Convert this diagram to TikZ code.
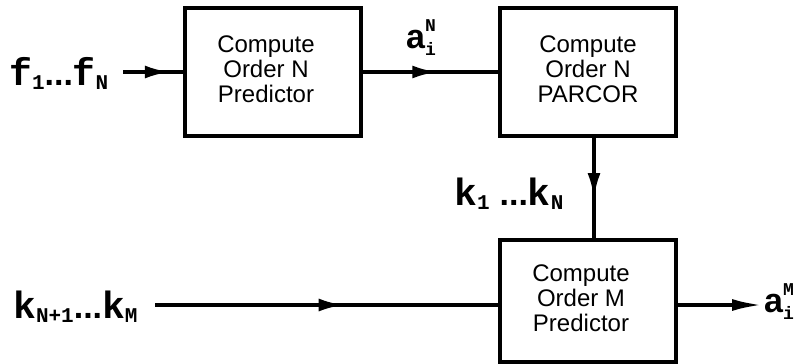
\documentclass[tikz,border=0pt]{standalone}
\usepackage{fontspec}
\setmainfont{Liberation Sans}
\newfontfamily\lblmono{Liberation Mono}
\usetikzlibrary{arrows.meta,decorations.markings}
\newcommand\Lm[1]{{\lblmono\bfseries\fontsize{38}{38}\selectfont #1}}
\newcommand\Ls[1]{{\lblmono\bfseries\fontsize{21}{21}\selectfont #1}}
\newcommand\Lt[1]{{\lblmono\bfseries\fontsize{18}{18}\selectfont #1}}
\newcommand\La[1]{{\bfseries\fontsize{34}{34}\selectfont #1}}
\newcommand\lsub[1]{\raisebox{-4pt}{\Ls{#1}}}
\newcommand\lsupsub[2]{\rlap{\raisebox{17pt}{\Lt{#1}}}\raisebox{-7pt}{\Lt{#2}}}
\newcommand\btext[1]{\begin{tabular}{@{}c@{}}#1\end{tabular}}
\tikzset{
  blockbox/.style={draw, line width=4pt, minimum width=176pt, inner sep=0pt,
    font=\fontsize{24}{25}\selectfont},
  conn/.style={line width=3.5pt},
  midarrow/.style={conn, postaction={decorate}, decoration={markings,
    mark=at position #1 with {\arrow{Latex[length=25pt,width=13pt]}}}},
  lbl/.style={inner sep=0pt, anchor=base west}
}
\begin{document}
\begin{tikzpicture}[x=1pt,y=-1pt]
\useasboundingbox (0,0) rectangle (803,364);
\node[blockbox, minimum height=128pt] (box1) at (273,72) {\btext{Compute\\Order N\\Predictor}\hspace*{14pt}};
\node[blockbox, minimum height=128pt] (box2) at (588,72) {\btext{Compute\\Order N\\PARCOR}};
\node[blockbox, minimum height=122pt] (box3) at (588,301) {\btext{Compute\\Order M\\Predictor}\hspace*{14pt}};

\node[lbl] (fl) at (9,85) {\Lm{f}\lsub{1}\La{...}\Lm{f}\lsub{N}};
\node[lbl] (aN) at (406,48) {\La{a}\lsupsub{N}{i}};
\node[lbl] (k1l) at (454,205) {\Lm{k}\lsub{1}\hspace{10pt}\La{...}\Lm{k}\lsub{N}};
\node[lbl] (kl) at (13,318) {\Lm{k}\lsub{N+1}\La{...}\Lm{k}\lsub{M}};
\node[lbl] (aM) at (764,312) {\La{a}\lsupsub{M}{i}};

\coordinate (fs) at (123,72);
\coordinate (ks) at (155,305);
\coordinate (ae) at (762,305);

\draw[midarrow=0.78] (fs) -- (box1.west);
\draw[midarrow=0.55] (box1.east) -- (box2.west);
\draw[midarrow=0.6] ([xshift=6pt]box2.south) -- ([xshift=6pt]box3.north);
\draw[midarrow=0.55] (ks) -- (ks -| box3.west);
\draw[conn, -{Latex[length=30pt,width=12pt]}] (ae -| box3.east) -- (ae);
\end{tikzpicture}
\end{document}
